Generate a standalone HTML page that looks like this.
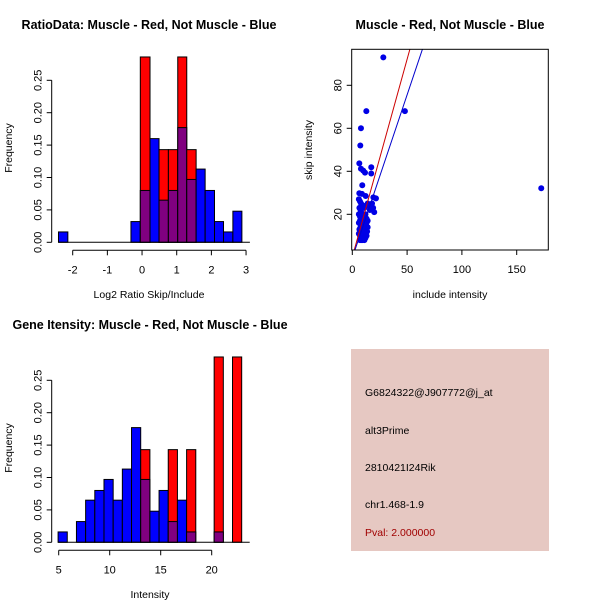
<!DOCTYPE html>
<html><head><meta charset="utf-8"><style>
body{margin:0;background:#fff;}
svg{display:block;font-family:"Liberation Sans",sans-serif;}
</style></head><body>
<svg id="s" width="600" height="600">
<text x="149" y="29" text-anchor="middle" font-size="12.5" font-weight="bold">RatioData: Muscle - Red, Not Muscle - Blue</text>
<text x="450" y="29" text-anchor="middle" font-size="12.5" font-weight="bold">Muscle - Red, Not Muscle - Blue</text>
<text x="150" y="329" text-anchor="middle" font-size="12.5" font-weight="bold">Gene Itensity: Muscle - Red, Not Muscle - Blue</text>
<text x="149" y="298" text-anchor="middle" font-size="10.5">Log2 Ratio Skip/Include</text>
<text x="450" y="298" text-anchor="middle" font-size="10.5">include intensity</text>
<text x="150" y="598" text-anchor="middle" font-size="10.5">Intensity</text>
<text transform="translate(12,148) rotate(-90)" text-anchor="middle" font-size="10.5">Frequency</text>
<text transform="translate(312,150) rotate(-90)" text-anchor="middle" font-size="10.5">skip intensity</text>
<text transform="translate(12,448) rotate(-90)" text-anchor="middle" font-size="10.5">Frequency</text>
<rect x="351" y="349" width="198" height="202" fill="#e6c8c2"/>
<g font-size="10.5">
<text x="365" y="396">G6824322@J907772@j_at</text>
<text x="365" y="434">alt3Prime</text>
<text x="365" y="471">2810421I24Rik</text>
<text x="365" y="508">chr1.468-1.9</text>
<text x="365" y="536" fill="#a00000">Pval: 2.000000</text>
</g>
</svg>
<script>
const NS="http://www.w3.org/2000/svg";
const svg=document.getElementById('s');
function mk(tag,attrs,parent){const e=document.createElementNS(NS,tag);for(const k in attrs)e.setAttribute(k,attrs[k]);(parent||svg).appendChild(e);return e;}

// ---- Ratio histogram data
const ratioEdges=[-2.41,-2.14,-0.32,-0.05,0.23,0.49,0.76,1.03,1.29,1.56,1.82,2.09,2.35,2.62,2.88];
const ratioBlue=[0.016,0,0.032,0.08,0.16,0.065,0.08,0.177,0.097,0.113,0.08,0.032,0.016,0.048];
const ratioRed=[0,0,0,0.286,0,0.143,0.143,0.286,0.143,0,0,0,0,0];
const ratioXTicks=[-2,-1,0,1,2,3];
const freqTicks=[0,0.05,0.10,0.15,0.20,0.25];
const freqLabels=["0.00","0.05","0.10","0.15","0.20","0.25"];

// ---- Intensity histogram data
const intStart=4.94, intWidth=0.9;
const intBlue=[0.016,0,0.032,0.065,0.08,0.097,0.065,0.113,0.177,0.097,0.048,0.08,0.032,0.065,0.016,0,0,0.016,0,0];
const intRed=[0,0,0,0,0,0,0,0,0,0.143,0,0,0.143,0,0.143,0,0,0.286,0,0.286];
const intXTicks=[5,10,15,20];

// ---- Scatter data
const incl=[28.3,48,12.8,7.9,7.3,6.4,7.9,10,11.6,17.3,17.3,9.1,172.4,6.4,8.8,12.2,19.2,21.6,6,7,8,9,6.5,7.5,10,11,13,14,15,16,18,19,20,6,7,8,9,12,13,14,6,7,8,10,11,13,14,6.5,7.5,8.5,9.5,12,13.5,7,8,9,10,6,7,8,9,11,7,8,9,12,13,10];
const skip=[93,68,68,60,52,43.7,41.2,40.3,39.4,41.9,39,33.5,32.1,29.8,29.5,28.5,27.9,27.4,27,26,25,24,23,22,24,23,24,25,24,22,25,23,21,20,19,21,18,20,18,17,16,17,15,16,15,16,14,13,14,12,13,14,12,11,10,11,12,11,10,9,9,8,8,8,8,9,10,20];
const lineRed=[0.1,1.84], lineBlue=[-0.3,1.517];
const scXTicks=[0,50,100,150], scYTicks=[20,40,60,80];

function hist(name,xs,ys,x0,edgesL,edgesR,blue,red,xticks,xlabel){
  const g=mk('g',{});
  
  
  for(let i=0;i<blue.length;i++){
    const l=xs(edgesL(i)),r=xs(edgesR(i));
    const b=blue[i],rd=red[i];
    if(rd>0){const e=mk('rect',{x:l,y:ys(rd),width:r-l,height:ys(0)-ys(rd),fill:'#ff0000',stroke:'#000','stroke-width':1},g);
      
      }
    if(b>0){const f=rd>0?'#800080':'#0000ff';
      const e=mk('rect',{x:l,y:ys(b),width:r-l,height:ys(0)-ys(b),fill:f,stroke:'#000','stroke-width':1},g);
      
      }
  }
  // baseline
  const bl=mk('line',{x1:xs(edgesL(0)),x2:xs(edgesR(blue.length-1))+8,y1:ys(0),y2:ys(0),stroke:'#000'},g);
  // y axis
  const ya=mk('g',{},g);
  
  
  mk('line',{x1:x0,x2:x0,y1:ys(0),y2:ys(0.25),stroke:'#000'},ya);
  freqTicks.forEach((t,i)=>{mk('line',{x1:x0,x2:x0-5,y1:ys(t),y2:ys(t),stroke:'#000'},ya);
    const tx=mk('text',{transform:`translate(${x0-10},${ys(t)}) rotate(-90)`,'text-anchor':'middle','font-size':11},ya);tx.textContent=freqLabels[i];});
  const xa=mk('g',{},g);
  
  
  const ay=ys(0)+8;
  mk('line',{x1:xs(xticks[0]),x2:xs(xticks[xticks.length-1]),y1:ay,y2:ay,stroke:'#000'},xa);
  xticks.forEach(t=>{mk('line',{x1:xs(t),x2:xs(t),y1:ay,y2:ay+5,stroke:'#000'},xa);
    const tx=mk('text',{x:xs(t),y:ay+23,'text-anchor':'middle','font-size':11},xa);tx.textContent=t;});
}
// top-left
{const ys=v=>242.3-v*648, xs=v=>72.7+(v+2)*34.67;
 hist('ratio-histogram',xs,ys,51.7,i=>ratioEdges[i],i=>ratioEdges[i+1],ratioBlue,ratioRed,ratioXTicks);}
// bottom-left
{const ys=v=>542.3-v*648, xs=v=>58.7+(v-5)*10.2;
 hist('intensity-histogram',xs,ys,51.7,i=>intStart+i*intWidth,i=>intStart+(i+1)*intWidth,intBlue,intRed,intXTicks);}
// scatter
{const xs=v=>352.3+v*1.096, ys=v=>214.3-(v-20)*2.15;
 const g=mk('g',{});
 
 
 const cp=mk('clipPath',{id:'cp'},g);mk('rect',{x:351.7,y:49.3,width:196.6,height:200.7},cp);
 const pts=mk('g',{'clip-path':'url(#cp)'},g);
 for(let i=0;i<incl.length;i++){const c=mk('circle',{cx:xs(incl[i]),cy:ys(skip[i]),r:3,fill:'#0000e6'},pts);
   
   }
 [[lineRed,'#cc0000','red-fit-line'],[lineBlue,'#0000cc','blue-fit-line']].forEach(([ab,col,n])=>{
   const l=mk('line',{x1:xs(0),y1:ys(ab[0]),x2:xs(200),y2:ys(ab[0]+ab[1]*200),stroke:col,'stroke-width':1},pts);
   
   });
 mk('rect',{x:351.7,y:49.3,width:196.6,height:200.7,fill:'none',stroke:'#000'},g);
 scXTicks.forEach(t=>{mk('line',{x1:xs(t),x2:xs(t),y1:250,y2:255,stroke:'#000'},g);
   const tx=mk('text',{x:xs(t),y:273,'text-anchor':'middle','font-size':11},g);tx.textContent=t;});
 scYTicks.forEach(t=>{mk('line',{x1:351.7,x2:346.7,y1:ys(t),y2:ys(t),stroke:'#000'},g);
   const tx=mk('text',{transform:`translate(${341.7},${ys(t)}) rotate(-90)`,'text-anchor':'middle','font-size':11},g);tx.textContent=t;});
}
</script>
</body></html>
